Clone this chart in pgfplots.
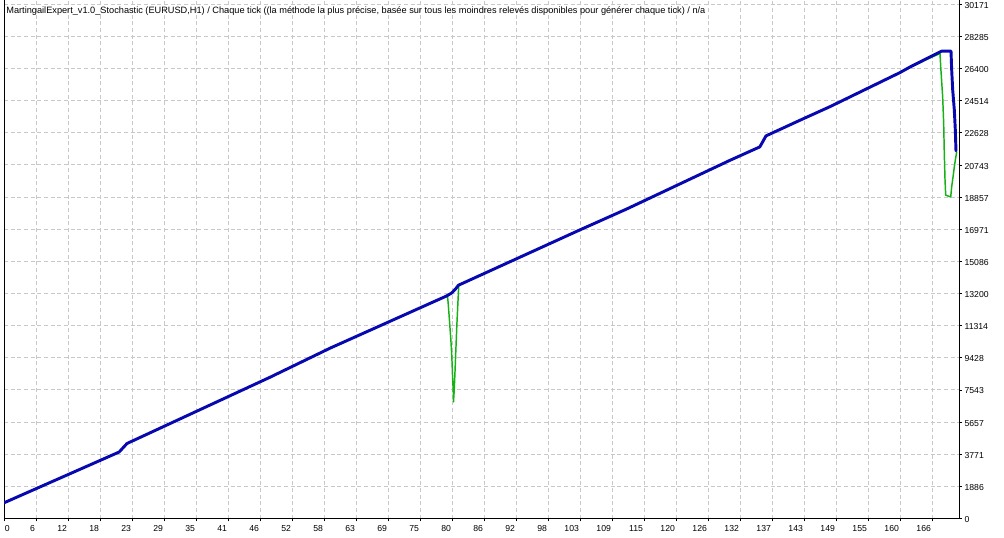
\documentclass[border=0pt]{standalone}
\usepackage{pgfplots}
\pgfplotsset{compat=1.18}
\usepackage{fontspec}
\setmainfont{Liberation Sans}
\definecolor{balblue}{RGB}{8,8,176}
\definecolor{eqgreen}{RGB}{20,178,20}
\definecolor{gridgray}{RGB}{200,200,200}
\pgfplotstableread{
x y
0 920
20.6 3900
21.3 4150
22.0 4400
47.6 8290
58.3 9990
79.2 13060
80.1 13236
80.8 13480
81.3 13688
103.0 16930
111.4 18160
129.9 21021
135.2 21802
135.8 22150
136.3 22447
142.4 23368
147.8 24170
160.3 26167
162.1 26495
167.7 27416
169.4 27420
169.52 26327
169.70 25154
169.99 23980
170.17 22807
170.29 21567
}\balance
\pgfplotstableread{
x y
0 920
20.6 3900
21.3 4150
22.0 4400
47.6 8290
58.3 9990
79.2 13060
79.33 13043
79.45 12650
79.69 11594
79.93 10502
80.11 9481
80.23 8407
80.35 7527
80.41 6841
80.53 7527
80.65 8407
80.83 9900
81.0 11300
81.2 12700
81.35 13700
103.0 16930
111.4 18160
129.9 21021
135.2 21802
135.8 22150
136.3 22447
142.4 23368
147.8 24170
160.3 26167
162.1 26495
167.43 27282
167.56 26495
167.91 24735
168.09 23175
168.20 21415
168.33 19848
168.45 18968
169.35 18868
169.52 19455
169.81 20157
169.99 20628
170.17 21022
170.42 21508
}\equity
\begin{document}
\begin{tikzpicture}
\useasboundingbox (0,0) rectangle (753pt,402.75pt);
\begin{axis}[
  at={(3pt,13.875pt)}, anchor=south west,
  scale only axis, width=716.25pt, height=388.875pt,
  xmin=0, xmax=170.83, ymin=0, ymax=30420,
  axis x line*=bottom, axis y line*=box,
  axis line style={black, line width=0.75pt},
  tick align=outside, major tick length=2.2pt,
  tick style={black, line width=0.6pt},
  xtick pos=bottom, ytick pos=right, yticklabel pos=right,
  xtick={5.7241,11.4483,17.1724,22.8966,28.6207,34.3448,40.0690,45.7931,51.5172,57.2414,62.9655,68.6897,74.4138,80.1379,85.8621,91.5862,97.3103,103.0345,108.7586,114.4828,120.2069,125.9310,131.6552,137.3793,143.1034,148.8276,154.5517,160.2759,166.0},
  xticklabels={6,12,18,23,29,35,41,46,52,58,63,69,75,80,86,92,98,103,109,115,120,126,132,137,143,149,155,160,166},
  extra x ticks={0}, extra x tick labels={0},
  extra x tick style={grid=none, xticklabel style={anchor=north west, xshift=1pt}},
  ytick={0,1885.69,3771.38,5657.06,7542.75,9428.44,11314.13,13199.81,15085.5,16971.19,18856.88,20742.56,22628.25,24513.94,26399.63,28285.31,30171},
  yticklabels={0,1886,3771,5657,7543,9428,11314,13200,15086,16971,18857,20743,22628,24514,26400,28285,30171},
  xmajorgrids, ymajorgrids,
  grid style={gridgray, line width=0.7pt, dash pattern=on 3pt off 2pt},
  xticklabel style={font=\fontsize{6.5}{7.5}\selectfont, anchor=north east, inner sep=0pt, xshift=-0.6pt, yshift=-2.6pt},
  yticklabel style={font=\fontsize{6.5}{7.5}\selectfont, anchor=west, inner sep=0pt, xshift=1.8pt, yshift=-0.8pt},
  title={MartingailExpert\_v1.0\_Stochastic (EURUSD,H1) / Chaque tick ((la méthode la plus précise, basée sur tous les moindres relevés disponibles pour générer chaque tick) / n/a},
  title style={at={(0,1)}, anchor=west, inner sep=0pt, xshift=1.6pt, yshift=-14.5pt, font=\fontsize{6.9}{8}\selectfont},
]
\addplot[eqgreen, line width=1.1pt, line join=round] table[x=x,y=y] {\equity};
\addplot[balblue, line width=2.2pt, line join=round, line cap=round] table[x=x,y=y] {\balance};
\end{axis}
\end{tikzpicture}
\end{document}
